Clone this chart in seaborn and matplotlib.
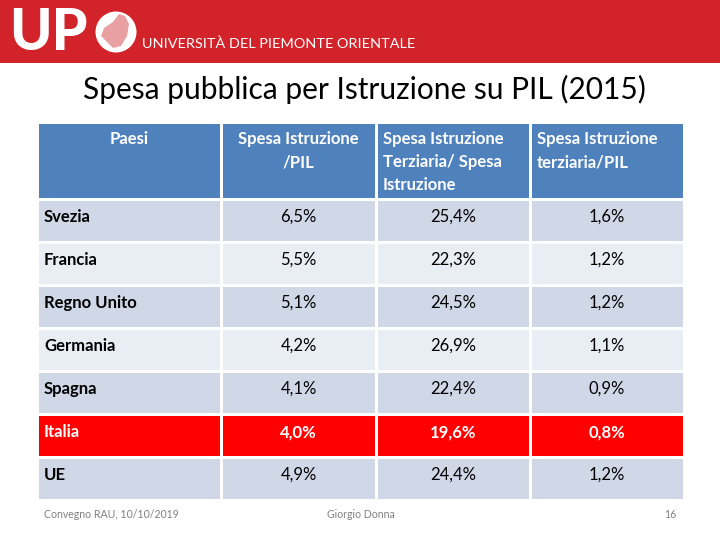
import matplotlib
matplotlib.use("Agg")
import matplotlib.pyplot as plt
from matplotlib.colors import ListedColormap
from matplotlib.patches import Rectangle, Ellipse, Polygon
import seaborn as sns
import pandas as pd
import numpy as np

# ---- data ----
countries = ["Svezia", "Francia", "Regno Unito", "Germania", "Spagna", "Italia", "UE"]
spesa_istr_pil = [6.5, 5.5, 5.1, 4.2, 4.1, 4.0, 4.9]
terz_su_spesa = [25.4, 22.3, 24.5, 26.9, 22.4, 19.6, 24.4]
terz_pil = [1.6, 1.2, 1.2, 1.1, 0.9, 0.8, 1.2]
headers = ["Paesi", "Spesa Istruzione\n/PIL", "Spesa Istruzione\nTerziaria/ Spesa\nIstruzione",
           "Spesa Istruzione\nterziaria/PIL"]
highlight = "Italia"
title = "Spesa pubblica per Istruzione su PIL (2015)"
footer_left = "Convegno RAU, 10/10/2019"
footer_mid = "Giorgio Donna"
footer_right = "16"

sns.set_theme(style="white")
plt.rcParams["font.family"] = ["Lato", "DejaVu Sans"]

W, H = 720, 540
fig = plt.figure(figsize=(7.2, 5.4), dpi=100)
fig.patch.set_facecolor("white")

def fx(px):
    return px / W

def fy(py):
    return 1 - py / H

# ---- banner ----
fig.add_artist(Rectangle((0, fy(63)), 1, 63 / H, transform=fig.transFigure,
                         facecolor="#D2232A", edgecolor="none", zorder=0))
fig.text(fx(9), fy(33), "UP", color="white", fontsize=41, fontweight="black",
         ha="left", va="center")
fig.add_artist(Ellipse((fx(116), fy(32)), 41 / W, 41 / H, transform=fig.transFigure,
                       facecolor="white", edgecolor="none"))
map_px = [(104, 28), (113, 22), (119, 14), (125, 16), (129, 24), (127, 36), (121, 46),
          (113, 48), (107, 42), (101, 36)]
fig.add_artist(Polygon([(fx(a), fy(b)) for a, b in map_px], closed=True,
                       transform=fig.transFigure, facecolor="#E9A0A3", edgecolor="none"))
fig.text(fx(142), fy(44), "UNIVERSITÀ DEL PIEMONTE ORIENTALE", color="white",
         fontsize=10.4, ha="left", va="center")

# ---- title ----
fig.text(fx(364), fy(89), title, color="black", fontsize=21.5, ha="center", va="center")

# ---- table ----
col_px = [37, 221, 376, 530, 684]
header_top, header_bot = 122, 199
data_top, data_bot = 199, 500

cell_dark = "#D0D8E8"
cell_light = "#E9EDF4"
cell_red = "#FF0000"
header_col = "#4F81BD"

codes = [2 if c == highlight else (0 if i % 2 == 0 else 1) for i, c in enumerate(countries)]
cmap_data = ListedColormap([cell_dark, cell_light, cell_red])

def fmt(v):
    return f"{v:.1f}%".replace(".", ",")

columns = [countries,
           [fmt(v) for v in spesa_istr_pil],
           [fmt(v) for v in terz_su_spesa],
           [fmt(v) for v in terz_pil]]

header_align = ["center", "center", "left", "left"]
FS = 12

for j in range(4):
    x0, x1 = col_px[j], col_px[j + 1]
    wpx = x1 - x0
    hh = header_bot - header_top
    # header cell
    axh = fig.add_axes([fx(x0), fy(header_bot), wpx / W, hh / H])
    sns.heatmap(pd.DataFrame([[0]]), cmap=ListedColormap([header_col]), cbar=False,
                linewidths=2, linecolor="white", ax=axh, xticklabels=False, yticklabels=False)
    axh.set_xlabel(""); axh.set_ylabel("")
    hx = 0.5 if header_align[j] == "center" else 7 / wpx
    axh.text(hx, 9 / hh, headers[j], color="white", fontsize=FS,
             fontweight="bold", ha=header_align[j], va="top", linespacing=1.55)

    # data cells
    axd = fig.add_axes([fx(x0), fy(data_bot), wpx / W, (data_bot - data_top) / H])
    df = pd.DataFrame({"c": codes}, index=countries)
    sns.heatmap(df, cmap=cmap_data, vmin=-0.5, vmax=2.5, cbar=False,
                linewidths=2, linecolor="white", ax=axd, xticklabels=False, yticklabels=False)
    axd.set_xlabel(""); axd.set_ylabel("")
    for i, label in enumerate(columns[j]):
        is_hl = countries[i] == highlight
        color = "white" if is_hl else "black"
        weight = "bold" if (is_hl or j == 0) else "normal"
        if j == 0:
            tx, ha = 7 / wpx, "left"
        else:
            tx, ha = 0.5, "center"
        axd.text(tx, i + 0.42, label, color=color, fontsize=FS, fontweight=weight,
                 ha=ha, va="center")

# ---- footer ----
fig.text(fx(44), fy(515), footer_left, color="#808080", fontsize=7.6, ha="left", va="center")
fig.text(fx(361), fy(515), footer_mid, color="#808080", fontsize=7.6, ha="center", va="center")
fig.text(fx(676), fy(515), footer_right, color="#808080", fontsize=7.6, ha="right", va="center")

fig.savefig("out.png", dpi=100)
